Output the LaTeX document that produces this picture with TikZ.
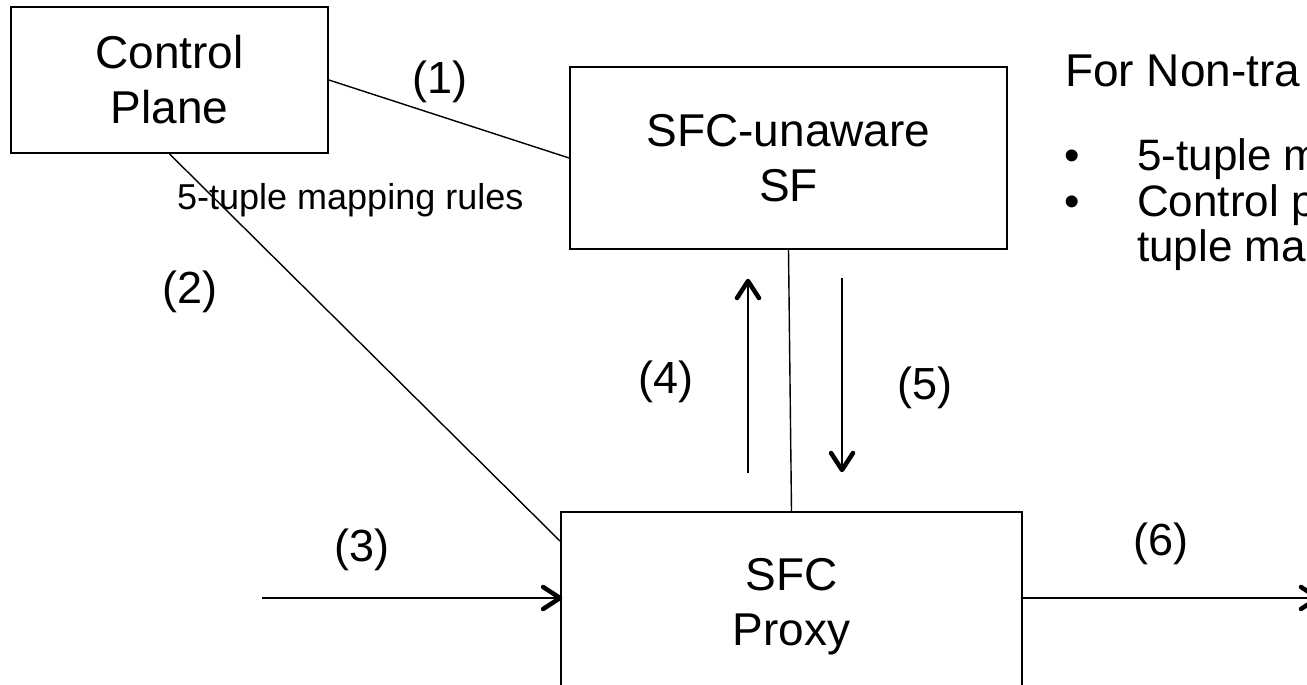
\documentclass[tikz,border=0pt]{standalone}
\usepackage{fontspec}
\setmainfont{Liberation Sans}
\usetikzlibrary{calc,decorations.markings}

\tikzset{
	box/.style={draw, line width=1.8pt, align=center, inner sep=0pt,
		font=\fontsize{46}{55}\selectfont},
	link/.style={line width=1.4pt},
	tip/.style={line width=4.5pt, line cap=round, line join=round},
	flow/.style={line width=1.4pt, postaction={decorate},
		decoration={markings, mark=at position 0.9999 with {
			\draw[tip] (-17pt,-11pt) -- (0pt,0pt) -- (-17pt,11pt);}}},
	step label/.style={font=\fontsize{45}{50}\selectfont, inner sep=0pt},
	side text/.style={font=\fontsize{44}{50}\selectfont, anchor=base west, inner sep=0pt}
}

\begin{document}
\begin{tikzpicture}[x=1pt,y=-1pt]
	
	% Fix the frame of the picture
	\useasboundingbox (0,0) rectangle (1307,685);
	\clip (0,0) rectangle (1307,685);
	
	% Draw the three boxes
	\node[box, minimum width=317pt, minimum height=146pt] (cp) at (169.5,80) {Control\\Plane};
	\node[box, minimum width=437pt, minimum height=182pt] (sf) at (788.5,158) {SFC-unaware\\SF};
	\node[box, minimum width=461pt, minimum height=190pt] (proxy) at (791.5,607) {SFC\\Proxy};
	
	% Draw the links between the boxes
	\draw[link] (cp.east) -- (sf.west);
	\draw[link] (cp.south) -- ($(proxy.north west)+(0,30)$);
	\draw[link] (sf.south) -- (proxy.north);
	
	% Draw the traffic arrows
	\coordinate (in) at (262,598);
	\coordinate (out) at (1318,598);
	\draw[flow] (in) -- (in -| proxy.west);
	\draw[flow] (out -| proxy.east) -- (out);
	\coordinate (up) at (748,473);
	\coordinate (down) at (842,278);
	\draw[flow] (up) -- ++(0,-192);
	\draw[flow] (down) -- ++(0,192);
	
	% Step numbers
	\node[step label] (n1) at (440,82) {(1)};
	\node[step label] (n2) at (190,292) {(2)};
	\node[step label] (n3) at (362,550) {(3)};
	\node[step label] (n4) at (666,382) {(4)};
	\node[step label] (n5) at (925,388) {(5)};
	\node[step label] (n6) at (1161,544) {(6)};
	\node[font=\fontsize{36}{40}\selectfont, anchor=base west, inner sep=0pt] (rules) at (177,209) {5-tuple mapping rules};
	
	% Text on the right
	\node[side text, font=\fontsize{46}{50}\selectfont] (title) at (1065,86) {For Non-tra};
	\node[side text] (b1) at (1064,170) {•};
	\node[side text] (t1) at (1137,170) {5-tuple m};
	\node[side text] (b2) at (1064,216) {•};
	\node[side text] (t2) at (1137,216) {Control p};
	\node[side text] (t3) at (1137,261) {tuple map};
	
\end{tikzpicture}
\end{document}
